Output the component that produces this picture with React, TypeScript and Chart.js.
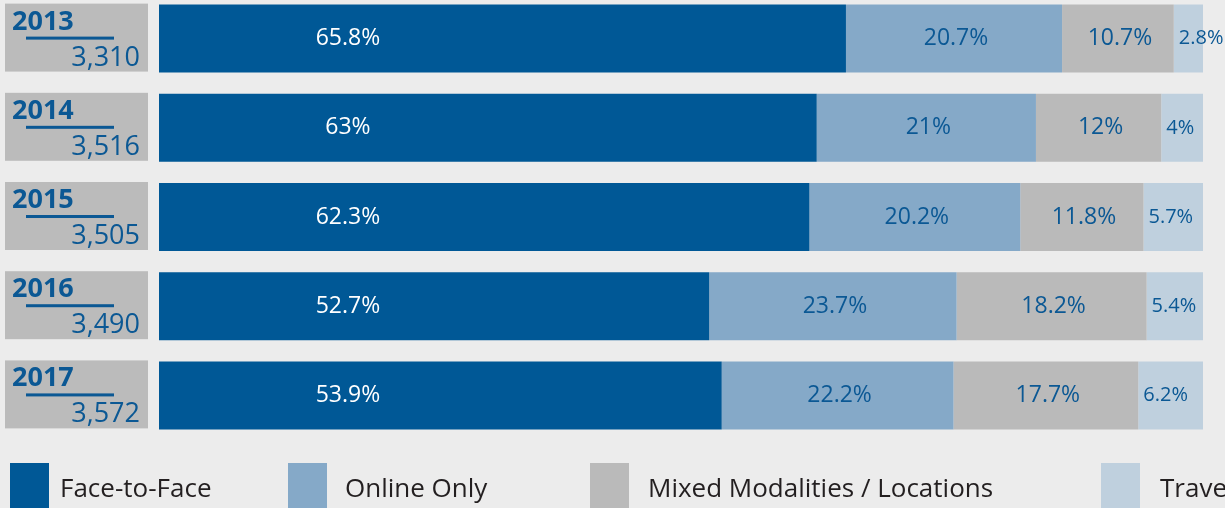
import React, { useEffect, useRef } from "react";
import { Chart, registerables } from "chart.js";

Chart.register(...registerables);

const years = ["2013", "2014", "2015", "2016", "2017"];
const counts = ["3,310", "3,516", "3,505", "3,490", "3,572"];
const faceToFace = [65.8, 63, 62.3, 52.7, 53.9];
const onlineOnly = [20.7, 21, 20.2, 23.7, 22.2];
const mixed = [10.7, 12, 11.8, 18.2, 17.7];
const travel = [2.8, 4, 5.7, 5.4, 6.2];
const faceLabels = ["65.8%", "63%", "62.3%", "52.7%", "53.9%"];
const onlineLabels = ["20.7%", "21%", "20.2%", "23.7%", "22.2%"];
const mixedLabels = ["10.7%", "12%", "11.8%", "18.2%", "17.7%"];
const travelLabels = ["2.8%", "4%", "5.7%", "5.4%", "6.2%"];
const seriesNames = ["Face-to-Face", "Online Only", "Mixed Modalities / Locations", "Travel Study"];

const COLORS = ["#005896", "#85a9c8", "#bababa", "#bfd0de"];
const BG = "#ececec";
const TEXT_BLUE = "#0b5894";
const FONT = '"Open Sans", "Noto Sans", sans-serif';
const LEGEND_SQ_X = [10, 288, 590, 1101];
const LEGEND_TX_X = [60, 345, 648, 1160];

const labelPlugin = {
  id: "customDraw",
  beforeDatasetsDraw(chart: any) {
    const ctx = chart.ctx;
    const meta0 = chart.getDatasetMeta(0);
    ctx.save();
    meta0.data.forEach((bar: any, i: number) => {
      const top = bar.y - bar.height / 2 - 1;
      const h = bar.height;
      ctx.fillStyle = "#bbbbbb";
      ctx.fillRect(5, top, 143, h);
      ctx.fillStyle = TEXT_BLUE;
      ctx.textBaseline = "alphabetic";
      ctx.textAlign = "left";
      ctx.font = `bold 27px ${FONT}`;
      ctx.fillText(years[i], 12, top + 26);
      ctx.fillRect(26, top + 33, 88, 3);
      ctx.textAlign = "right";
      ctx.font = `27px ${FONT}`;
      ctx.fillText(counts[i], 140, top + 62);
    });
    ctx.restore();
  },
  afterDatasetsDraw(chart: any) {
    const ctx = chart.ctx;
    const xScale = chart.scales.x;
    const labelSets = [faceLabels, onlineLabels, mixedLabels, travelLabels];
    ctx.save();
    ctx.textBaseline = "middle";
    labelSets.forEach((labels, d) => {
      const meta = chart.getDatasetMeta(d);
      meta.data.forEach((bar: any, i: number) => {
        const y = bar.y;
        if (d === 0) {
          ctx.fillStyle = "#ffffff";
          ctx.font = `23px ${FONT}`;
          ctx.textAlign = "center";
          ctx.fillText(labels[i], xScale.getPixelForValue(18.1), y);
        } else if (d === 3) {
          ctx.fillStyle = TEXT_BLUE;
          ctx.font = `20px ${FONT}`;
          ctx.textAlign = "left";
          ctx.fillText(labels[i], bar.base + 5, y);
        } else {
          ctx.fillStyle = TEXT_BLUE;
          ctx.font = `23px ${FONT}`;
          ctx.textAlign = "center";
          ctx.fillText(labels[i], (bar.x + bar.base) / 2 + 2, y);
        }
      });
    });
    // legend
    const top = chart.height - 45;
    seriesNames.forEach((name, k) => {
      ctx.fillStyle = COLORS[k];
      ctx.fillRect(LEGEND_SQ_X[k], top, 39, 60);
      ctx.fillStyle = "#231f20";
      ctx.font = `26px ${FONT}`;
      ctx.textAlign = "left";
      ctx.textBaseline = "alphabetic";
      ctx.fillText(name, LEGEND_TX_X[k], top + 34);
    });
    ctx.restore();
  },
};

export default function App() {
  const ref = useRef<HTMLCanvasElement>(null);
  useEffect(() => {
    document.body.style.margin = "0";
    document.body.style.background = BG;
    document.body.style.overflow = "hidden";
    let chart: Chart | null = null;
    let cancelled = false;
    const make = () => {
      if (cancelled || !ref.current) return;
      chart = new Chart(ref.current, {
        type: "bar",
        data: {
          labels: years,
          datasets: [faceToFace, onlineOnly, mixed, travel].map((data, k) => ({
            label: seriesNames[k],
            data,
            backgroundColor: COLORS[k],
            borderWidth: 0,
            barPercentage: 0.762,
            categoryPercentage: 1,
          })),
        },
        options: {
          indexAxis: "y",
          responsive: false,
          animation: false,
          layout: { padding: { left: 159, right: 22, top: 0, bottom: 68 } },
          plugins: { legend: { display: false }, tooltip: { enabled: false } },
          scales: {
            x: { stacked: true, min: 0, max: 100, display: false },
            y: { stacked: true, display: false },
          },
        },
        plugins: [labelPlugin],
      });
    };
    Promise.all([
      document.fonts.load(`23px "Open Sans"`),
      document.fonts.load(`bold 27px "Open Sans"`),
    ]).then(make, make);
    return () => {
      cancelled = true;
      if (chart) chart.destroy();
    };
  }, []);
  return (
    <div style={{ position: "relative", width: 1225, height: 508, overflow: "hidden", background: BG }}>
      <canvas ref={ref} width={1225} height={514} style={{ position: "absolute", left: 0, top: -6 }} />
    </div>
  );
}
